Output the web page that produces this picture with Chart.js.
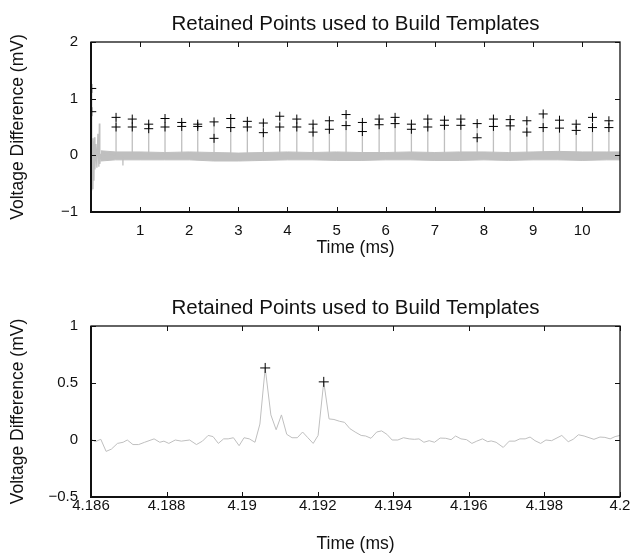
<!DOCTYPE html>
<html>
<head>
<meta charset="utf-8">
<script src="https://cdn.jsdelivr.net/npm/chart.js@4.4.1/dist/chart.umd.min.js"></script>
<style>
html, body { margin: 0; padding: 0; background: #fff; }
#wrap { position: relative; width: 642px; height: 555px; }
#topBox { position: absolute; left: 0; top: 0; width: 642px; height: 270px; }
#botBox { position: absolute; left: 0; top: 280px; width: 642px; height: 275px; }
</style>
</head>
<body>
<div id="wrap">
  <div id="topBox"><canvas id="topChart"></canvas></div>
  <div id="botBox"><canvas id="botChart"></canvas></div>
</div>
<script>
// ---- values ----

// retained points (top panel): one column per spike, upper and lower "+"
const spikeTimes = [0.015, 0.51, 0.84, 1.175, 1.507, 1.847, 2.173, 2.505, 2.845, 3.183, 3.509,
    3.843, 4.19, 4.521, 4.853, 5.193, 5.525, 5.866, 6.191, 6.523, 6.857, 7.196, 7.53, 7.862,
    8.193, 8.534, 8.874, 9.206, 9.538, 9.878, 10.21, 10.544];
const spikeHigh = [1.18, 0.67, 0.64, 0.55, 0.65, 0.58, 0.55, 0.59, 0.65, 0.60, 0.57,
    0.69, 0.64, 0.55, 0.61, 0.72, 0.58, 0.64, 0.67, 0.55, 0.64, 0.62, 0.64, 0.56,
    0.64, 0.63, 0.61, 0.73, 0.62, 0.55, 0.67, 0.61];
const spikeLow = [0.77, 0.50, 0.50, 0.47, 0.50, 0.51, 0.51, 0.30, 0.49, 0.50, 0.40,
    0.50, 0.50, 0.41, 0.46, 0.525, 0.42, 0.54, 0.56, 0.46, 0.50, 0.53, 0.53, 0.31,
    0.51, 0.52, 0.41, 0.49, 0.48, 0.44, 0.49, 0.49];

// stimulus artifact at the start of the recording, plus a noise dip
const artifactTime = [0, 0.01, 0.02, 0.03, 0.04, 0.05, 0.06, 0.07, 0.08, 0.1, 0.12, 0.14, 0.16, 0.17, 0.18, 0.2,
    0.648, 0.65, 0.652];
const artifactVolt = [0, -0.3, -0.62, 0.3, -0.6, 0.25, -0.45, 0.32, -0.25, 0.2, -0.22, 0.38, -0.2, 0.56, -0.15, 0.02,
    0, -0.18, 0];

// noise band of the trace (upper / lower envelope)
const bandTime = [0.2, 0.5, 1, 1.5, 2, 2.5, 3, 3.5, 4, 4.5, 5, 5.5, 6, 6.5, 7, 7.5, 8, 8.5, 9, 9.5, 10, 10.5, 10.77];
const bandHigh = [0.08, 0.06, 0.06, 0.05, 0.06, 0.05, 0.04, 0.05, 0.06, 0.05, 0.06, 0.05,
    0.05, 0.06, 0.05, 0.06, 0.06, 0.05, 0.06, 0.07, 0.06, 0.06, 0.06];
const bandLow = [-0.1, -0.08, -0.08, -0.08, -0.08, -0.1, -0.1, -0.09, -0.08, -0.08, -0.09, -0.09,
    -0.08, -0.08, -0.09, -0.09, -0.08, -0.09, -0.08, -0.08, -0.09, -0.08, -0.08];
const baseline = 0;

// zoomed trace (bottom panel)
const zoomTime = [4.18601, 4.18611, 4.18626, 4.18640, 4.18654, 4.18670, 4.18685, 4.18696, 4.18711, 4.18726,
    4.18742, 4.18767, 4.18782, 4.18793, 4.18806, 4.18823, 4.18839, 4.18861, 4.18879, 4.18895,
    4.18910, 4.18923, 4.18937, 4.18951, 4.18963, 4.18977, 4.18992, 4.19005, 4.19019, 4.19034,
    4.19047, 4.19061, 4.19076, 4.19090, 4.19104, 4.19118, 4.19132, 4.19146, 4.19160, 4.19174,
    4.19188, 4.19201, 4.19216, 4.19230, 4.19243, 4.19257, 4.19271, 4.19285, 4.19299, 4.19315,
    4.19327, 4.19341, 4.19356, 4.19369, 4.19383, 4.19397, 4.19412, 4.19427, 4.19442, 4.19456,
    4.19468, 4.19481, 4.19495, 4.19509, 4.19524, 4.19539, 4.19553, 4.19565, 4.19579, 4.19594,
    4.19608, 4.19621, 4.19636, 4.19650, 4.19659, 4.19672, 4.19691, 4.19707, 4.19722, 4.19735,
    4.19749, 4.19762, 4.19775, 4.19790, 4.19804, 4.19819, 4.19846, 4.19863, 4.19876, 4.19890,
    4.19905, 4.19931, 4.19947, 4.19960, 4.19974, 4.19987, 4.2];
const zoomVolt = [0.006, -0.015, 0.006, -0.10, -0.08, -0.03, -0.02, 0.0, -0.04, -0.04,
    -0.02, 0.01, -0.02, -0.01, -0.03, 0.0, -0.01, 0.0, -0.04, -0.01,
    0.04, 0.03, -0.03, 0.01, 0.01, 0.02, -0.05, 0.02, 0.01, -0.02,
    0.14, 0.632, 0.22, 0.09, 0.22, 0.05, 0.02, 0.02, 0.07, 0.02,
    -0.03, 0.04, 0.51, 0.185, 0.18, 0.165, 0.155, 0.10, 0.07, 0.04,
    0.035, 0.015, 0.07, 0.08, 0.05, 0.0, 0.0, 0.02, 0.01, 0.006,
    0.01, -0.02, -0.006, -0.02, 0.017, 0.015, 0.003, 0.035, 0.01, 0.003,
    -0.03, -0.01, 0.01, -0.015, -0.008, -0.02, -0.065, -0.01, -0.01, 0.01,
    0.01, 0.026, -0.006, -0.03, 0.0, -0.006, 0.04, -0.015, 0.006, 0.046,
    0.035, 0.006, 0.026, 0.023, 0.01, 0.03, 0.04];
const zoomMarkTime = [4.19061, 4.19216];
const zoomMarkVolt = [0.632, 0.51];

const topXTicks = { min: 0, max: 10.77, step: 1 };
const topYTicks = { min: -1, max: 2, step: 1 };
const botXTicks = { min: 4.186, max: 4.2, step: 0.002 };
const botYTicks = { min: -0.5, max: 1, step: 0.5 };

const titleText = 'Retained Points used to Build Templates';
const xTitle = 'Time (ms)';
const yTitle = 'Voltage Difference (mV)';

// ---- styling ----
const traceGray = '#bfbfbf';
const fontFamily = 'Liberation Sans, Arial, sans-serif';
const tickFont = { family: fontFamily, size: 15 };

Chart.defaults.font.family = fontFamily;
Chart.defaults.color = '#111';

// box round the plot, inward tick marks on all four sides, title centred on the plot
const frame = {
    id: 'frame',
    afterDatasetsDraw(chart, args, opts) {
        const { ctx, chartArea: a, scales: { x, y } } = chart;
        ctx.save();
        ctx.strokeStyle = '#111';
        ctx.lineWidth = 1;
        ctx.beginPath();
        x.ticks.forEach(t => {
            const px = Math.round(x.getPixelForValue(t.value)) + 0.5;
            ctx.moveTo(px, a.bottom); ctx.lineTo(px, a.bottom - 5);
            ctx.moveTo(px, a.top); ctx.lineTo(px, a.top + 5);
        });
        y.ticks.forEach(t => {
            const py = Math.round(y.getPixelForValue(t.value)) + 0.5;
            ctx.moveTo(a.left, py); ctx.lineTo(a.left + 5, py);
            ctx.moveTo(a.right, py); ctx.lineTo(a.right - 5, py);
        });
        ctx.stroke();
        ctx.lineWidth = 1.3;
        ctx.strokeRect(a.left, a.top, a.width, a.height);
        ctx.lineWidth = 2;
        ctx.beginPath();
        ctx.moveTo(a.left, a.top); ctx.lineTo(a.left, a.bottom); ctx.lineTo(a.right, a.bottom);
        ctx.stroke();

        ctx.fillStyle = '#111';
        ctx.font = '20.5px ' + fontFamily;
        ctx.textAlign = 'center';
        ctx.textBaseline = 'alphabetic';
        ctx.fillText(titleText, (a.left + a.right) / 2, opts.titleY);
        ctx.restore();
    }
};

function minusSign(v) {
    return String(v).replace('-', '\u2212');
}

function makeOptions(xr, yr, xLabel, topPad, titleY, xTickPad, xTitlePad, xHeight) {
    return {
        responsive: true,
        maintainAspectRatio: false,
        animation: false,
        events: [],
        layout: { padding: { left: 0, right: 22, top: topPad, bottom: 0 } },
        plugins: {
            legend: { display: false },
            tooltip: { enabled: false },
            title: { display: false },
            frame: { titleY: titleY }
        },
        scales: {
            x: {
                type: 'linear',
                min: xr.min,
                max: xr.max,
                grid: { display: false, drawTicks: false },
                border: { display: false },
                ticks: {
                    stepSize: xr.step,
                    includeBounds: false,
                    maxRotation: 0,
                    autoSkip: false,
                    padding: xTickPad,
                    font: tickFont,
                    color: '#111',
                    callback: xLabel
                },
                title: { display: true, text: xTitle, font: { size: 17.5 }, padding: { top: 0, bottom: xTitlePad } },
                afterFit: s => { s.height = xHeight; }
            },
            y: {
                min: yr.min,
                max: yr.max,
                grid: { display: false, drawTicks: false },
                border: { display: false },
                ticks: {
                    stepSize: yr.step,
                    includeBounds: false,
                    padding: 13,
                    font: tickFont,
                    color: '#111',
                    callback: v => minusSign(v)
                },
                title: { display: true, text: yTitle, font: { size: 17.5 }, padding: { top: 8, bottom: 0 } },
                afterFit: s => { s.width = 91; }
            }
        }
    };
}

// ---- top panel ----
const topMarks = [];
spikeTimes.forEach((t, i) => {
    topMarks.push({ x: t, y: spikeHigh[i] });
    topMarks.push({ x: t, y: spikeLow[i] });
});

const topTrace = [];
spikeTimes.forEach((t, i) => {
    topTrace.push({ x: t, y: baseline }, { x: t, y: spikeHigh[i] }, { x: t, y: baseline });
});
artifactTime.forEach((t, i) => topTrace.push({ x: t, y: artifactVolt[i] }));
topTrace.sort((a, b) => a.x - b.x);

new Chart(document.getElementById('topChart'), {
    type: 'line',
    data: {
        datasets: [{
            data: topMarks,
            showLine: false,
            pointStyle: 'cross',
            pointRadius: 4.5,
            pointBorderWidth: 1,
            pointBorderColor: '#000'
        }, {
            data: topTrace,
            borderColor: traceGray,
            borderWidth: 1.3,
            pointRadius: 0,
            tension: 0
        }, {
            data: bandTime.map((t, i) => ({ x: t, y: bandHigh[i] })),
            borderColor: traceGray,
            borderWidth: 1,
            backgroundColor: traceGray,
            pointRadius: 0,
            fill: '+1'
        }, {
            data: bandTime.map((t, i) => ({ x: t, y: bandLow[i] })),
            borderColor: traceGray,
            borderWidth: 1,
            pointRadius: 0
        }]
    },
    options: makeOptions(topXTicks, topYTicks, v => (v === 0 ? '' : v),
        42, 29.5, 10, 11.5, 58),
    plugins: [frame]
});

// ---- bottom panel ----
new Chart(document.getElementById('botChart'), {
    type: 'line',
    data: {
        datasets: [{
            data: zoomMarkTime.map((t, i) => ({ x: t, y: zoomMarkVolt[i] })),
            showLine: false,
            pointStyle: 'cross',
            pointRadius: 5,
            pointBorderWidth: 1,
            pointBorderColor: '#000'
        }, {
            data: zoomTime.map((t, i) => ({ x: t, y: zoomVolt[i] })),
            borderColor: traceGray,
            borderWidth: 1,
            pointRadius: 0,
            tension: 0
        }]
    },
    options: makeOptions(botXTicks, botYTicks, v => String(+v.toFixed(3)),
        46, 33.5, 0, 0, 58),
    plugins: [frame]
});
</script>
</body>
</html>
